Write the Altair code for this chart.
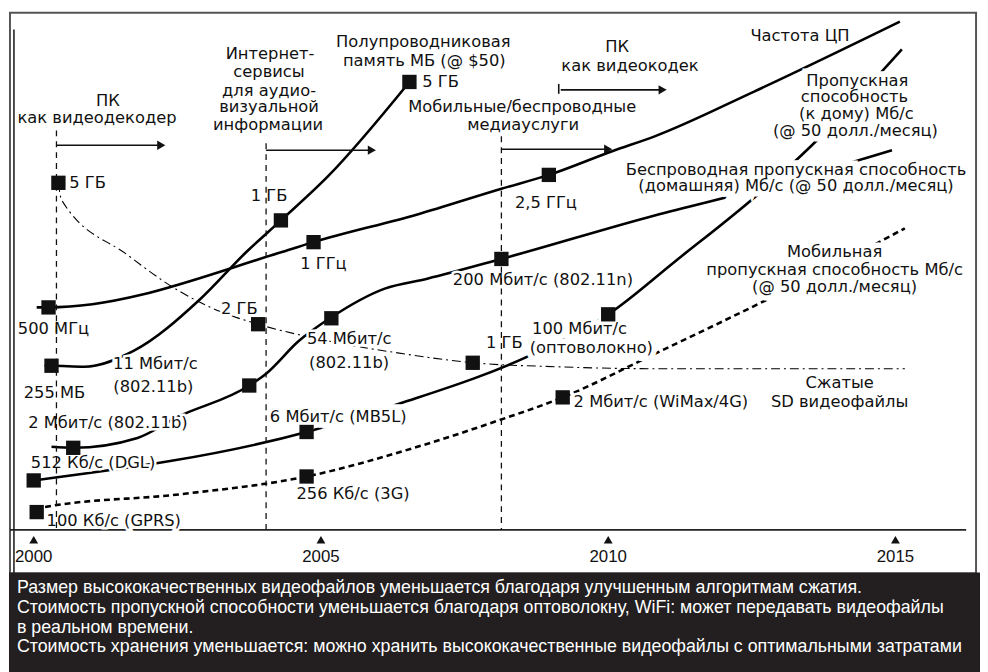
import altair as alt
import pandas as pd

# ---------------- data: x = year, y = relative level (time axis = 0) ----------------
cpu_year = [2000.052, 2000.258, 2004.320, 2004.871, 2006.678, 2008.141, 2008.967, 2010.069, 2010.809, 2012.530, 2015.077]
cpu_level = [45.0, 45.0, 56.2, 58.2, 63.8, 69.0, 71.8, 76.6, 79.6, 88.6, 102.8]

mem_year = [2000.189, 2000.310, 2000.878, 2001.738, 2002.892, 2003.701, 2004.303, 2005.129, 2006.540]
mem_level = [33.2, 33.2, 33.0, 36.2, 46.6, 56.2, 62.6, 71.6, 90.6]

wl_year = [2000.310, 2000.688, 2001.807, 2002.496, 2003.752, 2004.045, 2004.613, 2005.181, 2006.110, 2006.850, 2008.141, 2010.809, 2012.702, 2014.940]
wl_level = [16.8, 16.6, 18.6, 22.8, 29.2, 31.6, 38.2, 43.0, 48.8, 50.8, 54.8, 63.6, 69.2, 76.8]

bb_year = [2000.000, 2004.750, 2006.386, 2008.623, 2010.000, 2011.153, 2012.702, 2013.528, 2015.112]
bb_level = [10.0, 19.8, 25.6, 35.2, 43.6, 54.2, 68.8, 77.6, 97.2]

video_year = [2000.430, 2000.482, 2001.635, 2002.547, 2003.236, 2003.907, 2005.129, 2006.334, 2007.642, 2009.088, 2010.809, 2015.164]
video_level = [70.2, 66.8, 55.6, 48.2, 44.2, 41.6, 38.2, 35.8, 33.8, 33.0, 32.6, 32.6]

mob_year = [2000.052, 2000.189, 2002.547, 2004.750, 2006.678, 2008.107, 2009.208, 2010.809, 2012.874, 2014.940, 2015.164]
mob_level = [3.6, 4.6, 7.2, 10.8, 16.8, 22.2, 26.8, 35.6, 47.2, 59.6, 61.0]

sq_year = [2000.258, 2004.871, 2008.967,
           2000.310, 2004.303, 2006.540,
           2000.430, 2003.907, 2007.642,
           2000.688, 2003.752, 2005.181, 2008.141,
           2000.000, 2004.750, 2010.000,
           2000.052, 2004.750, 2009.208]
sq_level = [45.0, 58.2, 71.8,
            33.2, 62.6, 90.6,
            70.2, 41.6, 33.8,
            16.6, 29.2, 42.8, 54.8,
            10.0, 19.8, 43.6,
            3.6, 10.8, 26.8]

lab_text = ["ПК", "как видеодекодер",
            "Интернет-", "сервисы", "для аудио-", "визуальной", "информации",
            "Полупроводниковая", "память МБ (@ $50)",
            "ПК", "как видеокодек",
            "Мобильные/беспроводные", "медиауслуги",
            "Частота ЦП",
            "Пропускная", "способность", "(к дому) Мб/с", "(@ 50 долл./месяц)",
            "Беспроводная пропускная способность", "(домашняя) Мб/с (@ 50 долл./месяц)",
            "Мобильная", "пропускная способность Мб/с", "(@ 50 долл./месяц)",
            "Сжатые", "SD видеофайлы",
            "1 ГБ", "2,5 ГГц", "1 ГГц", "500 МГц", "2 ГБ", "255 МБ",
            "11 Мбит/с", "(802.11b)", "54 Мбит/с", "(802.11b)",
            "200 Мбит/с (802.11n)", "1 ГБ", "100 Мбит/с", "(оптоволокно)",
            "2 Мбит/с (802.11b)", "512 Кб/с (DGL)", "6 Мбит/с (MB5L)", "256 Кб/с (3G)"]
lab_year = [2001.291, 2001.102,
            2004.114, 2004.096, 2004.096, 2004.096, 2004.079,
            2006.781, 2006.799,
            2010.155, 2010.379,
            2008.503, 2008.520,
            2013.339,
            2014.337, 2014.286, 2014.320, 2014.303,
            2013.270, 2013.270,
            2013.941, 2013.941, 2013.941,
            2014.028, 2014.028,
            2004.096, 2008.916, 2005.043, 2000.344, 2003.580, 2000.361,
            2002.117, 2002.083, 2005.491, 2005.491,
            2008.864, 2008.193, 2009.501, 2009.707,
            2001.291, 2001.033, 2005.301, 2005.559]
lab_level = [86.8, 83.2,
             96.2, 92.6, 88.8, 85.6, 81.8,
             98.6, 94.8,
             97.6, 93.8,
             85.6, 81.8,
             99.8,
             90.8, 87.6, 84.2, 80.6,
             72.8, 69.6,
             56.2, 52.6, 49.2,
             29.6, 25.8,
             67.6, 66.2, 53.8, 40.6, 44.6, 27.6,
             33.6, 28.8, 38.6, 33.8,
             50.6, 37.8, 40.6, 36.8,
             21.6, 13.6, 22.8, 7.2]

# labels whose white ground fully hides the curves running behind them
solid_ground = ["Пропускная", "способность", "(к дому) Мб/с", "(@ 50 долл./месяц)",
                "Беспроводная пропускная способность", "(домашняя) Мб/с (@ 50 долл./месяц)",
                "Мобильная", "пропускная способность Мб/с",
                "100 Мбит/с", "(оптоволокно)", "6 Мбит/с (MB5L)"]

left_text = ["5 ГБ", "5 ГБ", "2 Мбит/с (WiMax/4G)", "100 Кб/с (GPRS)"]
left_year = [2000.620, 2006.764, 2009.398, 2000.224]
left_level = [70.2, 90.6, 25.8, 1.8]

vline_year = [2000.396, 2004.045, 2008.141]
vline_top = [80.8, 78.2, 79.6]

arrow_start = [2000.396, 2004.045, 2008.141, 2009.174]
arrow_end = [2002.220, 2005.886, 2010.000, 2010.947]
arrow_level = [77.8, 76.8, 77.0, 89.0]

tick_years = [2000, 2005, 2010, 2015]
tick_labels = ["2000", "2005", "2010", "2015"]

box_lines = [
    "Размер высококачественных видеофайлов уменьшается благодаря улучшенным алгоритмам сжатия.",
    "Стоимость пропускной способности уменьшается благодаря оптоволокну, WiFi: может передавать видеофайлы",
    "в реальном времени.",
    "Стоимость хранения уменьшается: можно хранить высококачественные видеофайлы с оптимальными затратами",
]

# ---------------- tables ----------------
def series_frame(name, xs, ys):
    return pd.DataFrame({"series": name, "year": xs, "level": ys, "order": list(range(len(xs)))})

solid_df = pd.concat([series_frame("cpu", cpu_year, cpu_level),
                      series_frame("mem", mem_year, mem_level),
                      series_frame("wl", wl_year, wl_level),
                      series_frame("bb", bb_year, bb_level)])
video_df = series_frame("video", video_year, video_level)
mob_df = series_frame("mob", mob_year, mob_level)
sq_df = pd.DataFrame({"year": sq_year, "level": sq_level})
lab_df = pd.DataFrame({"text": lab_text, "year": lab_year, "level": lab_level})
lab_df["ground"] = lab_df["text"].isin(solid_ground)
left_df = pd.DataFrame({"text": left_text, "year": left_year, "level": left_level})
vline_df = pd.DataFrame({"year": vline_year, "top": vline_top, "bottom": [0.0] * 3})
arrow_df = pd.DataFrame({"x0": arrow_start, "x1": arrow_end, "level": arrow_level})
tick_df = pd.DataFrame({"year": tick_years, "label": tick_labels, "tri": [-2.0] * 4, "lab": [-5.4] * 4})
frame_df = pd.DataFrame({"x0": [1999.587, 1999.656], "x1": [2016.231, 1999.656],
                         "y0": [0.0, -8.8], "y1": [0.0, 101.2]})
mark_df = pd.DataFrame({"year": [2009.139], "y0": [88.2], "y1": [90.2]})
box_df = pd.DataFrame({"text": box_lines, "row": [1, 2, 3, 4]})

XS = alt.Scale(domain=[1999.587, 2016.403], nice=False, zero=False)
YS = alt.Scale(domain=[-8.8, 104.6], nice=False, zero=False)
FONT = "DejaVu Sans"
FS = 16.5

def X(f):
    return alt.X(f, type="quantitative", scale=XS, axis=None)

def Y(f):
    return alt.Y(f, type="quantitative", scale=YS, axis=None)

frame_rules = alt.Chart(frame_df).mark_rule(color="#222", strokeWidth=1.6).encode(
    x=X("x0"), x2="x1", y=Y("y0"), y2="y1")

solid = alt.Chart(solid_df).mark_line(color="black", strokeWidth=2.6, interpolate="monotone").encode(
    x=X("year"), y=Y("level"), detail="series:N", order="order:Q")
video = alt.Chart(video_df).mark_line(color="black", strokeWidth=1.1, strokeDash=[9, 4, 2, 4],
                                      interpolate="monotone").encode(
    x=X("year"), y=Y("level"), order="order:Q")
mob = alt.Chart(mob_df).mark_line(color="black", strokeWidth=2.6, strokeDash=[6, 4],
                                  interpolate="monotone").encode(
    x=X("year"), y=Y("level"), order="order:Q")

halo_thin = alt.Chart(lab_df).transform_filter("!datum.ground").mark_text(
    font=FONT, fontSize=FS, align="center", baseline="middle",
    color="white", stroke="white", strokeWidth=5).encode(
    x=X("year"), y=Y("level"), text="text:N")
halo_wide = alt.Chart(lab_df).transform_filter("datum.ground").mark_text(
    font=FONT, fontSize=FS, align="center", baseline="middle",
    color="white", stroke="white", strokeWidth=11).encode(
    x=X("year"), y=Y("level"), text="text:N")
text_c = alt.Chart(lab_df).mark_text(font=FONT, fontSize=FS, align="center", baseline="middle",
                                     color="#111").encode(
    x=X("year"), y=Y("level"), text="text:N")
halo_l = alt.Chart(left_df).mark_text(font=FONT, fontSize=FS, align="left", baseline="middle",
                                      color="white", stroke="white", strokeWidth=5).encode(
    x=X("year"), y=Y("level"), text="text:N")
text_l = alt.Chart(left_df).mark_text(font=FONT, fontSize=FS, align="left", baseline="middle",
                                      color="#111").encode(
    x=X("year"), y=Y("level"), text="text:N")

squares = alt.Chart(sq_df).mark_square(size=210, color="#111", opacity=1).encode(
    x=X("year"), y=Y("level"))

vlines = alt.Chart(vline_df).mark_rule(color="#111", strokeWidth=1.3, strokeDash=[6, 5]).encode(
    x=X("year"), y=Y("top"), y2="bottom")

arrows = alt.Chart(arrow_df).mark_rule(color="#111", strokeWidth=1.6).encode(
    x=X("x0"), x2="x1", y=Y("level"))
heads = alt.Chart(arrow_df).mark_point(shape="triangle-right", filled=True, size=90, color="#111",
                                       opacity=1).encode(
    x=X("x1"), y=Y("level"))
tickmark = alt.Chart(mark_df).mark_rule(color="#111", strokeWidth=1.6).encode(
    x=X("year"), y=Y("y0"), y2="y1")

tris = alt.Chart(tick_df).mark_point(shape="triangle-up", filled=True, size=80, color="#111",
                                     opacity=1).encode(
    x=X("year"), y=Y("tri"))
years = alt.Chart(tick_df).mark_text(font="Liberation Sans", fontSize=17, align="center",
                                     baseline="middle", color="#111").encode(
    x=X("year"), y=Y("lab"), text="label:N")

top = alt.layer(frame_rules, solid, video, mob, halo_thin, halo_wide, halo_l, text_c, text_l,
                squares, vlines, arrows, heads, tickmark, tris, years).properties(width=977, height=567)

box = alt.Chart(box_df).mark_text(font="Liberation Sans", fontSize=18, align="left",
                                  baseline="middle", color="white").encode(
    x=alt.value(7),
    y=alt.Y("row:Q", scale=alt.Scale(domain=[0.25, 5.25], reverse=True, nice=False, zero=False),
            axis=None),
    text="text:N",
).properties(width=980, height=100,
             view=alt.ViewBackground(fill="#231f20", stroke="#231f20"))

chart = alt.vconcat(top, box, spacing=0, bounds="flush").properties(padding=0).configure_view(
    stroke="#555", strokeWidth=2)

chart.save("out.html", embed_options={"renderer": "svg", "actions": False})
